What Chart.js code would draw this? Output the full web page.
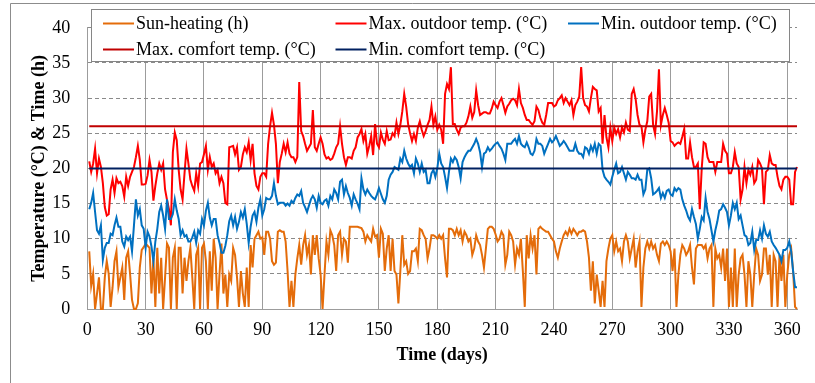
<!DOCTYPE html>
<html>
<head>
<meta charset="utf-8">
<script src="https://cdn.jsdelivr.net/npm/chart.js@4.4.1/dist/chart.umd.min.js"></script>
<style>
  html, body { margin: 0; padding: 0; background: #fff; }
  #wrap { width: 815px; height: 383px; }
</style>
</head>
<body>
<div id="wrap"><canvas id="chart" width="815" height="383"></canvas></div>
<script>
// ── Data (one value per day) ──────────────────────────────────────────
const xTicks = [0, 30, 60, 90, 120, 150, 180, 210, 240, 270, 300, 330, 360];
const yTicks = [0, 5, 10, 15, 20, 25, 30, 35, 40];

const sunHeating = [
  8.2, 3.3, 5, 0, 2.2, 4.5, 0, 0, 4.5, 6.8,
  5, 0.3, 3.1, 6.8, 8.2, 3.1, 4.5, 5.9, 1.3, 7.3,
  8.2, 5, 1.3, 0, 0, 0.8, 5.9, 8.4, 8.8, 9.3,
  9, 8.7, 2.2, 7.3, 0.3, 8.7, 2.2, 7.3, 0, 4.5,
  9.3, 8.7, 0, 7.3, 8.7, 0, 8.7, 8.7, 2.2, 7.3,
  4, 6.8, 8.7, 4.5, 0, 7.7, 8.7, 0, 8.7, 9.3,
  6.8, 0, 8.2, 2.6, 10, 7.3, 0, 5, 9.3, 2.2,
  4.9, 0.3, 4.9, 4, 8.7, 7.7, 4.5, 0.3, 5.4, 2.2,
  0.3, 5.9, 0.3, 9.1, 5.9, 10, 10.5, 11, 10, 10.2,
  7.7, 11, 11, 10, 6.8, 6.3, 6.6, 11, 11.2, 11,
  11, 9.6, 5.4, 0.3, 4, 0.3, 4.9, 7.2, 9.1, 6.3,
  9.1, 10.5, 7.7, 9.1, 4.9, 10.5, 7.7, 10.5, 7.2, 4.9,
  0, 4.9, 9.6, 7.7, 11.2, 10.5, 9.1, 5.4, 10.5, 11,
  7.7, 10, 9.6, 6.6, 11.7, 11.7, 11.7, 11.7, 11.7, 11.6,
  11.5, 11, 9.6, 10.5, 10, 9.6, 11.4, 10.3, 10.5, 7.3,
  11.4, 10.7, 5.4, 8.6, 10.5, 5.4, 10, 5.4, 4.9, 0.8,
  5.4, 10.5, 6.3, 6.8, 5, 5.4, 8.2, 8.2, 8.6, 6.8,
  11.4, 11.2, 10.5, 10, 7.2, 8.6, 10.5, 10.5, 10.3, 10,
  10.5, 10, 10.5, 7.2, 4.5, 11.4, 11.4, 11.2, 10.5, 11.4,
  10.5, 11.2, 9.6, 11, 10.5, 9.6, 10, 7.7, 8.6, 10.5,
  9.6, 9.1, 7.7, 5.9, 8.6, 11.4, 11.7, 11.7, 11.4, 10.6,
  9.6, 10, 11, 10.5, 6.3, 7.7, 11, 10.5, 9.6, 6.3,
  8.6, 7.7, 10, 5.4, 0.3, 10.5, 7.2, 10.5, 8.6, 10.5,
  4.9, 11.4, 11.7, 11.4, 11.2, 11, 11, 10.5, 10, 9.6,
  8.2, 7.3, 8.6, 9.6, 10.5, 11, 10.5, 11.4, 10.7, 11.4,
  11, 10.5, 11, 11, 11.2, 11, 9.6, 7.3, 2.6, 6.8,
  0.8, 4.9, 2.6, 0.3, 4, 0.3, 6.8, 8.6, 10, 10.5,
  8.2, 9.6, 8.2, 8.6, 6.8, 9.6, 10.5, 9.6, 7.2, 8.6,
  10, 5.9, 8.2, 9.6, 0.3, 5.9, 8.6, 9.6, 8.6, 9.6,
  8.6, 9.1, 7.7, 6.8, 9.3, 9.6, 9.1, 9.6, 9.1, 8.2,
  5.4, 8.6, 0.3, 4.9, 7.7, 9.1, 8.6, 7.7, 8.2, 9.1,
  5.9, 3.5, 8.6, 9.1, 9.1, 9.1, 8.6, 9.1, 7.2, 8.6,
  9.1, 0.3, 8.6, 7.2, 7.7, 5.9, 8.6, 4, 8.6, 0.3,
  5.9, 0.3, 8.6, 0.3, 4.9, 7.2, 7.7, 4.9, 0.3, 6.8,
  4.9, 0.3, 4.9, 8.6, 7.7, 4, 4.9, 8.6, 8.6, 4.9,
  7.7, 0.3, 7.7, 6.8, 0.3, 7.7, 4, 7.7, 0.3, 4.9,
  7.7, 8.6, 5.4, 0.3, 0
];

const maxOutdoor = [
  21, 19.5, 20.7, 22.8, 19.3, 21.4, 20.2, 17.9, 14.5, 13.3,
  13.5, 17, 18.4, 16.5, 18.6, 17.9, 18.1, 17.5, 16, 18.8,
  17.5, 18.8, 19.5, 20.2, 21.6, 23.2, 21.2, 17.7, 17.7, 17.8,
  19, 21.2, 19.5, 15.4, 17.5, 19.3, 20.7, 19.8, 20.7, 17,
  15.5, 14.2, 11.9, 22.3, 25.1, 24, 19.8, 17, 15.6, 19.3,
  22.8, 20.7, 18.4, 17.5, 16.8, 19.3, 17.5, 20.7, 20.9, 22,
  23.2, 19.8, 21.6, 20.2, 20.7, 19.3, 19.8, 17.9, 18.8, 17.9,
  15.1, 14.9, 23, 23.1, 23.2, 22, 23, 19.8, 20.2, 22,
  23, 22.3, 23.7, 21.2, 23.5, 19.3, 17.5, 17, 18.8, 19.3,
  19.3, 18.8, 23.5, 26, 27.9, 26.2, 23.5, 17.9, 20.9, 22.1,
  23.5, 22.3, 23.7, 22.1, 21.6, 21.6, 20.9, 21.6, 32.3, 25.3,
  24.6, 23.5, 22.5, 23, 23.5, 28.3, 23, 22.5, 23.5, 24.4,
  23.5, 22, 21.4, 21.6, 21.2, 21.4, 22.1, 23, 23.5, 26,
  23.5, 21.6, 20.5, 21.6, 21.6, 21.4, 22.5, 23, 24.4, 24.9,
  25.6, 23.9, 24.9, 22.1, 23.2, 24.6, 21.9, 26.3, 23.5, 23,
  25.1, 24.1, 23.5, 25.3, 24, 24.1, 25, 24.6, 26.5, 24.9,
  26.2, 28.1, 30.6, 28.8, 26.3, 25, 23.9, 24.9, 23.9, 25.8,
  26.7, 25.5, 24.6, 25.3, 26.2, 26.9, 28.8, 26.2, 27.4, 25.5,
  26.2, 25.5, 23.5, 30.6, 32, 31.3, 34.4, 26.3, 26.3, 25.5,
  24.9, 25.8, 26, 26, 26.5, 27.4, 28.8, 27.2, 28, 31.1,
  29, 27.6, 27.8, 28, 28, 27.8, 27.8, 28.5, 29.5, 29,
  28.6, 29.5, 30, 29, 27.9, 28.8, 29.2, 29.7, 29.9, 29.7,
  29, 31.3, 29.3, 28.6, 27.6, 26.9, 26.9, 26.5, 26.2, 26.7,
  28.8, 28.3, 27.2, 26.5, 26.2, 27.6, 29.3, 29.3, 29.3, 28.8,
  29, 29.7, 30, 30.4, 29.3, 30, 29.5, 29, 29.7, 27.6,
  29, 29.5, 30.2, 34.4, 30, 29, 28.8, 28.1, 30, 31.6,
  31.3, 31.1, 28.1, 28.6, 23.5, 27.6, 24.4, 23, 25.8, 23.9,
  25.8, 24.9, 25.6, 24.4, 25.8, 25.1, 26.5, 25.5, 25.3, 30.6,
  31.3, 29.9, 27.6, 26.2, 26, 23.7, 25.5, 26.7, 30.2, 30.6,
  26.2, 24.9, 28.1, 34.1, 26.2, 27.6, 28.6, 27.6, 26.5, 23.9,
  23.7, 23.2, 23.5, 23.7, 23.5, 24.5, 25.6, 21.4, 21.4, 23.7,
  21.6, 20.2, 20.2, 20.7, 14.2, 20, 23.7, 23.5, 21.6, 20.9,
  20.9, 20.9, 19.5, 20.9, 20.9, 20.9, 23.5, 22.5, 22.1, 19.3,
  19.3, 20.2, 22.3, 20.7, 20.2, 15.6, 17, 20.2, 17.9, 19.8,
  19.1, 20.2, 17.9, 18.4, 21.2, 20.7, 20, 14.9, 19.5, 19.8,
  21.9, 20.7, 20.5, 20.5, 18.8, 17.5, 17, 18.4, 18.8, 18.8,
  18.4, 14.9, 14.9, 19.5, 20.2
];

const minOutdoor = [
  14.2, 15.1, 16.5, 13.8, 11.2, 10.7, 11.9, 7, 8.7, 9.4,
  9.4, 10.7, 10.5, 11.9, 13, 11.7, 11.7, 9.6, 8.9, 10.3,
  9.8, 10.3, 8.2, 11.9, 15.6, 13.3, 14.2, 11.9, 11.4, 8.7,
  11, 10.3, 8.9, 6.8, 9.6, 11.4, 13.8, 14.7, 13.3, 11.4,
  15.6, 12.8, 12.8, 13.5, 15.6, 14, 12.8, 10.5, 11.2, 10.3,
  10.5, 9.6, 9.6, 10.2, 11, 9.4, 11.2, 10.7, 12.8, 11.9,
  14, 15.1, 13, 11.9, 12.8, 12.8, 10.5, 9.4, 8, 8,
  9, 10.5, 12.5, 13.3, 11.9, 13.1, 11.4, 12.4, 13.8, 13,
  14.2, 12.1, 9.4, 11.7, 13.3, 13.8, 12.4, 14.4, 15.6, 13.3,
  14.2, 15.8, 15.6, 15.6, 16.1, 17.9, 16.1, 14.9, 15.1, 15.1,
  15.1, 14.7, 15, 14.7, 15.4, 15.1, 15.8, 16.3, 16.1, 16.8,
  15.1, 14.5, 13.8, 14.7, 15.6, 16.1, 15.6, 14.4, 16.1, 15.1,
  14.9, 15.4, 15.6, 14.7, 16.1, 15.6, 17, 16.5, 15.6, 18.1,
  18.4, 16.3, 17.5, 16.5, 15.8, 14.7, 16.3, 15.6, 15, 14.2,
  18.6, 17, 16.3, 17, 16.5, 16.1, 15.8, 15.6, 16.3, 17.2,
  16.4, 15.6, 15.1, 16.1, 18.4, 19.1, 19.5, 20.2, 20, 19.8,
  21.4, 20.9, 22.5, 21.4, 20.7, 20.2, 20.5, 19.3, 21.4, 20.7,
  19.5, 20.7, 19.5, 19.8, 17.9, 17.9, 19.3, 19.8, 18.8, 20,
  22.1, 20.7, 20.2, 18.8, 17.2, 19.5, 21.4, 20.9, 21.6, 21.2,
  20.2, 18.6, 20.9, 21.6, 22.1, 22.5, 22.5, 23, 23.5, 24.2,
  23.5, 22.3, 20.2, 22.1, 22.3, 23, 22.5, 22.8, 23.2, 23.5,
  23.7, 23.2, 22.8, 22.1, 21.2, 23.5, 23.5, 23.5, 23.9, 24.2,
  23.5, 24.6, 23.5, 23.2, 23, 23.7, 23, 22.1, 21.9, 22.5,
  24.2, 23.5, 23.5, 23.2, 22.1, 22.8, 23.5, 24.2, 23.7, 24,
  24.6, 23.9, 23.2, 23.5, 23.9, 23.5, 23, 22.5, 22.5, 22.5,
  23.5, 22.5, 22.1, 22.1, 21.6, 23, 22.8, 22.1, 23.2, 22.5,
  23.5, 22.1, 23.5, 23.2, 19.8, 18.8, 18.4, 18.1, 17.7, 18.8,
  19.8, 20.7, 19.3, 19.5, 20.2, 19.3, 18.4, 19.5, 19.1, 18.6,
  18.6, 18.4, 19.1, 18.4, 18.4, 16.3, 17, 19.8, 20, 18.6,
  16.3, 16.5, 16.8, 17.2, 15.8, 16.5, 15.8, 16.8, 17, 16.3,
  16.1, 17.2, 16.8, 17.2, 17, 15.6, 14.7, 14, 13.1, 12.6,
  14.2, 13.1, 12.1, 10, 11.4, 13.1, 12.6, 15.8, 13.8, 12.8,
  11.2, 9.6, 11.2, 12.4, 14, 14.2, 14.9, 14.4, 13.8, 11.9,
  13.3, 15.1, 14.2, 15.1, 12.8, 13.3, 11.9, 10.5, 10.3, 9.1,
  9.4, 11, 8.4, 9.8, 9.8, 11.2, 10, 11.9, 10.7, 10.3,
  11, 9.6, 9.1, 8.7, 8.2, 7.7, 6.8, 8.4, 8.4, 8.7,
  9.6, 8.2, 5.4, 3.1, 3.1
];

const maxComfort = 26;
const minComfort = 20;
const firstDay = 1;
const lastDay = 365;

// ── Helpers ─────────────────────────────────────────────────
const FONT = "'Liberation Serif', 'Times New Roman', serif";
const toPoints = arr => arr.map((v, i) => ({ x: i + 1, y: v }));
const flat = v => [{ x: firstDay, y: v }, { x: lastDay, y: v }];

const line = (label, data, color, order) => ({
    label, data, order,
    borderColor: color,
    backgroundColor: color,
    borderWidth: 2,
    pointRadius: 0,
    tension: 0,
    fill: false,
    clip: false,
});

// ── Plugins: page frame + boxed legend inside the plot ──────
const frame = {
    id: 'frame',
    beforeDraw(chart) {
        const ctx = chart.ctx;
        ctx.save();
        ctx.fillStyle = '#fff';
        ctx.fillRect(0, 0, chart.width, chart.height);
        ctx.strokeStyle = '#8c8c8c';
        ctx.lineWidth = 1;
        ctx.beginPath();
        ctx.moveTo(10.5, chart.height);
        ctx.lineTo(10.5, 3.5);
        ctx.lineTo(chart.width, 3.5);
        ctx.stroke();
        ctx.restore();
    }
};

const boxedLegend = {
    id: 'boxedLegend',
    afterDatasetsDraw(chart) {
        const ctx = chart.ctx;
        ctx.save();
        ctx.fillStyle = '#fff';
        ctx.fillRect(91, 9, 698, 52);
        ctx.strokeStyle = '#868686';
        ctx.lineWidth = 1;
        ctx.strokeRect(91.5, 9.5, 698, 52);

        ctx.font = '18px ' + FONT;
        ctx.textBaseline = 'middle';
        chart.data.datasets.forEach((ds, i) => {
            const x = 103 + (i % 3) * 232.5;
            const y = 23.5 + Math.floor(i / 3) * 26;
            ctx.strokeStyle = ds.borderColor;
            ctx.lineWidth = 2;
            ctx.beginPath();
            ctx.moveTo(x, y);
            ctx.lineTo(x + 31, y);
            ctx.stroke();
            ctx.fillStyle = '#000';
            ctx.fillText(ds.label, x + 33, y + 1);
        });
        ctx.restore();
    }
};

// ── Chart ───────────────────────────────────────────────────
new Chart(document.getElementById('chart').getContext('2d'), {
    type: 'line',
    data: {
        datasets: [
            line('Sun-heating (h)',          toPoints(sunHeating), '#E46C0A', 4),
            line('Max. outdoor temp. (°C)',  toPoints(maxOutdoor), '#FF0000', 3),
            line('Min. outdoor temp. (°C)',  toPoints(minOutdoor), '#0070C0', 2),
            line('Max. comfort temp. (°C)',  flat(maxComfort),     '#C00000', 1),
            line('Min. comfort temp. (°C)',  flat(minComfort),     '#002060', 0),
        ],
    },
    options: {
        responsive: false,
        animation: false,
        layout: { padding: { top: 21, right: 18, left: 0, bottom: 0 } },
        plugins: {
            legend: { display: false },
            tooltip: { enabled: false },
        },
        scales: {
            x: {
                type: 'linear',
                min: 0,
                max: 365,
                afterBuildTicks: s => { s.ticks = xTicks.map(v => ({ value: v })); },
                afterFit: s => { s.height = 74; },
                grid: { color: '#9c9c9c', lineWidth: 1, drawTicks: false },
                border: { color: '#9c9c9c', width: 1 },
                ticks: { padding: 10, color: '#000', font: { family: FONT, size: 18 }, maxRotation: 0, autoSkip: false },
                title: {
                    display: true, text: 'Time (days)', color: '#000',
                    font: { family: FONT, size: 18, weight: 'bold' },
                    padding: { top: 0, bottom: 17 },
                },
            },
            y: {
                min: 0,
                max: 40,
                afterBuildTicks: s => { s.ticks = yTicks.map(v => ({ value: v })); },
                afterFit: s => { s.width = 87.3; },
                grid: { color: '#8a8a8a', lineWidth: 1, drawTicks: false },
                border: { color: '#9c9c9c', width: 1, dash: [4, 3] },
                ticks: { padding: 17, color: '#000', font: { family: FONT, size: 18 } },
                title: {
                    display: true, text: 'Temperature (°C) & Time (h)', color: '#000',
                    font: { family: FONT, size: 18, weight: 'bold' },
                    padding: { top: 29, bottom: 0 },
                },
            },
        },
    },
    plugins: [frame, boxedLegend],
});
</script>
</body>
</html>
